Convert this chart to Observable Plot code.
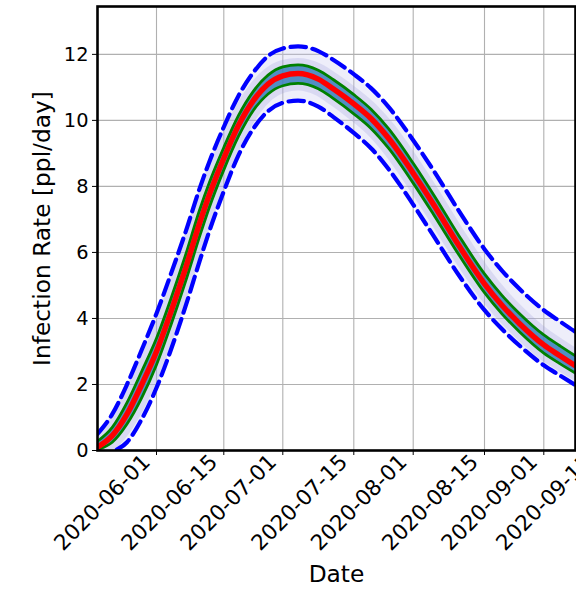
<!DOCTYPE html>
<html>
<head>
<meta charset="utf-8">
<script src="https://cdn.jsdelivr.net/npm/d3@7"></script>
<script src="https://cdn.jsdelivr.net/npm/@observablehq/plot@0.6"></script>
<style>
  html, body { margin: 0; padding: 0; background: white; overflow: hidden; }
</style>
</head>
<body>
<div id="chart"></div>
<script>
// ---- data ----
const dates = ["2020-05-20","2020-05-23","2020-05-26","2020-05-29","2020-06-01","2020-06-04","2020-06-07","2020-06-10","2020-06-12","2020-06-15","2020-06-19","2020-06-23","2020-06-27","2020-07-01","2020-07-04","2020-07-08","2020-07-11","2020-07-15","2020-07-20","2020-07-25","2020-08-01","2020-08-05","2020-08-10","2020-08-15","2020-08-20","2020-08-25","2020-09-01","2020-09-05","2020-09-10","2020-09-11"];
const rateMean   = [0.10,0.45,1.10,2.00,3.00,4.20,5.50,6.90,7.75,8.85,9.85,10.60,11.10,11.35,11.42,11.25,10.95,10.50,10.05,9.45,8.40,7.45,6.20,5.05,4.40,3.85,3.20,2.88,2.50,2.43];
const rateHi     = [0.28,0.70,1.45,2.40,3.40,4.60,5.90,7.30,8.12,9.18,10.15,10.88,11.37,11.62,11.68,11.52,11.23,10.78,10.33,9.74,8.70,7.75,6.50,5.35,4.70,4.15,3.50,3.18,2.80,2.73];
const rateLo     = [0.03,0.25,0.80,1.60,2.60,3.80,5.10,6.50,7.37,8.50,9.52,10.30,10.80,11.05,11.12,10.96,10.66,10.20,9.75,9.15,8.10,7.15,5.92,4.78,4.14,3.60,2.95,2.64,2.28,2.21];
const boundHi    = [0.50,1.10,2.00,3.05,4.15,5.35,6.60,7.95,8.75,9.80,10.75,11.45,11.95,12.18,12.24,12.10,11.83,11.40,10.97,10.40,9.40,8.48,7.25,6.10,5.45,4.90,4.25,3.92,3.53,3.46];
const boundLo    = [-0.30,-0.05,0.25,0.95,1.90,3.05,4.35,5.75,6.65,7.85,8.95,9.75,10.28,10.53,10.60,10.42,10.10,9.62,9.15,8.52,7.45,6.50,5.30,4.25,3.68,3.18,2.58,2.28,1.92,1.85];
const xTickDates = ["2020-06-01","2020-06-15","2020-07-01","2020-07-15","2020-08-01","2020-08-15","2020-09-01","2020-09-15"];
const yTicks = [0, 2, 4, 6, 8, 10, 12];
const xLabel = "Date";
const yLabel = "Infection Rate [ppl/day]";

// ---- build table ----
const parse = d3.utcParse("%Y-%m-%d");
const rows = dates.map((d, i) => ({
  date: parse(d), mean: rateMean[i], hi: rateHi[i], lo: rateLo[i], bHi: boundHi[i], bLo: boundLo[i]
}));
const xTicks = xTickDates.map(parse);

const xDomain = [parse("2020-05-20"), ...xTicks];
const xRange = [97, 156, 223.3, 282.3, 353.3, 412.7, 484, 543.3, 598];

const chart = Plot.plot({
  width: 576,
  height: 590,
  marginLeft: 97,
  marginRight: 1,
  marginTop: 6,
  marginBottom: 140,
  style: {fontFamily: "DejaVu Sans", fontSize: "19.4px", color: "black", background: "white", overflow: "visible"},
  x: {type: "utc", domain: xDomain, range: xRange},
  y: {domain: [0, 13.45]},
  marks: [
    Plot.gridX(xTicks.slice(0, 7), {stroke: "#b0b0b0", strokeOpacity: 1, strokeWidth: 1.1}),
    Plot.gridY(yTicks, {stroke: "#b0b0b0", strokeOpacity: 1, strokeWidth: 1.1}),
    Plot.areaY(rows, {x: "date", y1: "bLo", y2: "bHi", fill: "#c8c8ee", fillOpacity: 0.3, curve: "monotone-x", clip: true}),
    Plot.line(rows, {x: "date", y: "hi", stroke: "#9090d8", strokeWidth: 14, strokeOpacity: 0.22, curve: "monotone-x", clip: true}),
    Plot.line(rows, {x: "date", y: "lo", stroke: "#9090d8", strokeWidth: 14, strokeOpacity: 0.22, curve: "monotone-x", clip: true}),
    Plot.areaY(rows, {x: "date", y1: "lo", y2: "hi", fill: "#2f7ab8", fillOpacity: 0.8, curve: "monotone-x", clip: true}),
    Plot.line(rows, {x: "date", y: "bHi", stroke: "blue", strokeWidth: 4.2, strokeDasharray: "15.4,6.7", curve: "monotone-x", clip: true}),
    Plot.line(rows, {x: "date", y: "bLo", stroke: "blue", strokeWidth: 4.2, strokeDasharray: "15.4,6.7", curve: "monotone-x", clip: true}),
    Plot.line(rows, {x: "date", y: "hi", stroke: "green", strokeWidth: 2.8, curve: "monotone-x", clip: true}),
    Plot.line(rows, {x: "date", y: "lo", stroke: "green", strokeWidth: 2.8, curve: "monotone-x", clip: true}),
    Plot.line(rows, {x: "date", y: "mean", stroke: "red", strokeWidth: 5.5, curve: "monotone-x", clip: true}),
    Plot.frame({stroke: "black", strokeWidth: 2.6}),
    Plot.axisY(yTicks, {tickSize: 5, tickPadding: 4, fontSize: 19.4, label: null, stroke: "black"}),
    Plot.axisX(xTicks.slice(0, 7), {tickSize: 5, text: null, label: null, stroke: "black"}),
    Plot.axisX(xTicks, {tickSize: 0, tickPadding: 9, tickRotate: -45, fontSize: 21.5, label: null, dx: -10, dy: -1, tickFormat: d3.utcFormat("%Y-%m-%d")}),
    Plot.text([yLabel], {frameAnchor: "left", textAnchor: "middle", dx: -55, rotate: -90, fontSize: 23.3, fill: "black"}),
    Plot.text([xLabel], {frameAnchor: "bottom", textAnchor: "middle", dy: 131, fontSize: 23.3, fill: "black"})
  ]
});
document.getElementById("chart").appendChild(chart);
</script>
</body>
</html>
